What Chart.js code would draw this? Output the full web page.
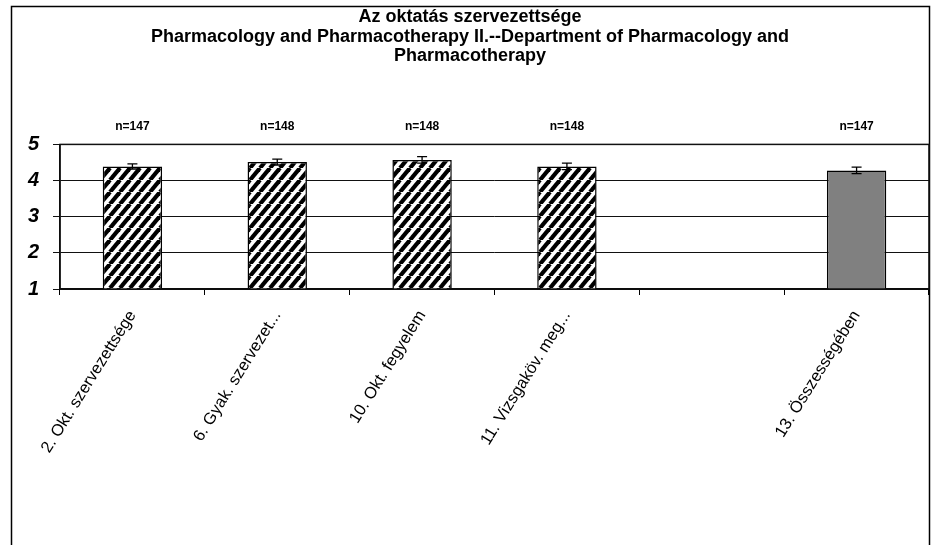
<!DOCTYPE html>
<html>
<head>
<meta charset="utf-8">
<script src="https://cdn.jsdelivr.net/npm/chart.js@4/dist/chart.umd.min.js"></script>
<style>
  html, body { margin: 0; padding: 0; background: #fff; }
  #wrap { width: 940px; height: 545px; position: relative; }
</style>
</head>
<body>
<div id="wrap"><canvas id="c" width="940" height="545"></canvas></div>
<script>
// ---- data ----
const categories = ["2. Okt. szervezettsége", "6. Gyak. szervezet...", "10. Okt. fegyelem", "11. Vizsgaköv. meg...", "", "13. Összességében"];
const means = [4.39, 4.51, 4.57, 4.39, null, 4.28];
const errors = [0.07, 0.08, 0.09, 0.09, null, 0.09];
const nLabels = ["n=147", "n=148", "n=148", "n=148", "", "n=147"];
const yTicks = [1, 2, 3, 4, 5];
const titleLines = ["Az oktatás szervezettsége", "Pharmacology and Pharmacotherapy II.--Department of Pharmacology and", "Pharmacotherapy"];

// ---- hatch pattern ----
function makeHatch() {
  const w = 10, h = 12;
  const pc = document.createElement('canvas');
  pc.width = w; pc.height = h;
  const p = pc.getContext('2d');
  p.fillStyle = '#fff';
  p.fillRect(0, 0, w, h);
  p.strokeStyle = '#000';
  p.lineWidth = 4.2;
  for (const x0 of [-w, 0, w]) {
    p.beginPath();
    p.moveTo(x0, h);
    p.lineTo(x0 + w, 0);
    p.stroke();
  }
  return p.createPattern(pc, 'repeat');
}
const ctx = document.getElementById('c').getContext('2d');
const hatch = makeHatch();
const barColors = categories.map((c, i) => i === categories.length - 1 ? '#808080' : hatch);

const FONT = "'Liberation Sans', Arial, sans-serif";

const framePlugin = {
  id: 'frame',
  afterDraw(chart) {
    const c = chart.ctx;
    c.save();
    c.strokeStyle = '#000';
    c.lineWidth = 1.5;
    c.beginPath();
    c.moveTo(11.5, 546);
    c.lineTo(11.5, 6.5);
    c.lineTo(929.5, 6.5);
    c.lineTo(929.5, 546);
    c.stroke();
    const a = chart.chartArea;
    c.lineWidth = 1.5;
    c.strokeStyle = '#111';
    c.strokeRect(a.left, a.top, a.right - a.left, a.bottom - a.top);
    c.restore();
  }
};

const extrasPlugin = {
  id: 'extras',
  afterDatasetsDraw(chart) {
    const c = chart.ctx;
    const xs = chart.scales.x, ys = chart.scales.y;
    const meta = chart.getDatasetMeta(0);
    c.save();
    c.strokeStyle = '#000';
    c.lineWidth = 1.3;
    means.forEach((v, i) => {
      if (v == null) return;
      const x = meta.data[i].x;
      const yt = ys.getPixelForValue(v + errors[i]);
      const yb = ys.getPixelForValue(v - errors[i]);
      c.beginPath();
      c.moveTo(x, yt); c.lineTo(x, yb);
      c.moveTo(x - 5, yt); c.lineTo(x + 5, yt);
      c.moveTo(x - 5, yb); c.lineTo(x + 5, yb);
      c.stroke();
    });
    c.fillStyle = '#000';
    c.font = "bold 12px " + FONT;
    c.textAlign = 'center';
    c.textBaseline = 'middle';
    nLabels.forEach((t, i) => {
      if (!t) return;
      c.fillText(t, xs.getPixelForValue(i), chart.chartArea.top - 17.5);
    });
    c.restore();
  }
};

new Chart(ctx, {
  type: 'bar',
  data: {
    labels: categories,
    datasets: [{
      data: means,
      backgroundColor: barColors,
      borderColor: '#000',
      borderWidth: 1.5,
      borderSkipped: false,
      barPercentage: 0.41,
      categoryPercentage: 1.0
    }]
  },
  options: {
    responsive: false,
    animation: false,
    devicePixelRatio: 1,
    layout: { padding: { left: 11, right: 11, top: 0, bottom: 0 } },
    plugins: {
      legend: { display: false },
      tooltip: { enabled: false },
      title: {
        display: true,
        text: titleLines,
        color: '#000',
        font: { family: FONT, size: 18, weight: 'bold', lineHeight: 1.1 },
        padding: { top: 7, bottom: 78 }
      }
    },
    scales: {
      x: {
        offset: true,
        grid: { offset: true, drawOnChartArea: false, drawTicks: true, tickLength: 6, color: '#000', lineWidth: 1 },
        border: { display: true, color: '#000', width: 1.5 },
        ticks: {
          autoSkip: false,
          minRotation: 58, maxRotation: 58,
          color: '#000',
          padding: 12,
          font: { family: FONT, size: 16.5 }
        },
        afterFit(s) { s.height = 256; }
      },
      y: {
        min: 1, max: 5,
        afterBuildTicks(s) { s.ticks = yTicks.map(v => ({ value: v })); },
        grid: { color: '#111', lineWidth: 1, drawTicks: true, tickLength: 7 },
        border: { display: true, color: '#000', width: 1.5 },
        ticks: {
          color: '#000',
          padding: 14,
          font: { family: FONT, size: 20, weight: 'bold', style: 'italic' }
        },
        afterFit(s) { s.width = 49; }
      }
    }
  },
  plugins: [framePlugin, extrasPlugin]
});
</script>
</body>
</html>
